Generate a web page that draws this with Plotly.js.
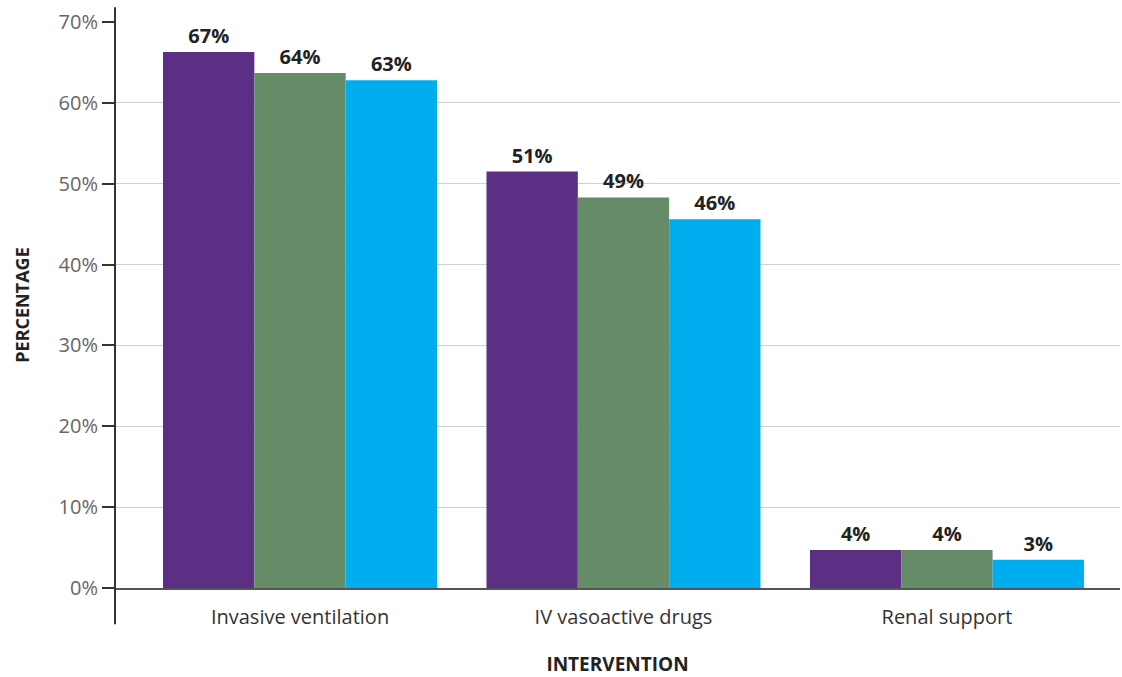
<!DOCTYPE html>
<html>
<head>
<meta charset="utf-8">
<script src="https://cdn.plot.ly/plotly-3.0.1.min.js"></script>
<style>html,body{margin:0;padding:0;background:#fff;}#chart{width:1122px;height:677px;}</style>
</head>
<body>
<div id="chart"></div>
<script>
var categories = ["Invasive ventilation", "IV vasoactive drugs", "Renal support"];
var seriesA = [66.3, 51.5, 4.7];
var seriesB = [63.7, 48.3, 4.7];
var seriesC = [62.8, 45.6, 3.5];
var labelsA = ["67%", "51%", "4%"];
var labelsB = ["64%", "49%", "4%"];
var labelsC = ["63%", "46%", "3%"];
var colors = ["#5B2F84", "#658B69", "#00ADEE"];
var yTickVals = [0, 10, 20, 30, 40, 50, 60, 70];
var yTickText = ["0%", "10%", "20%", "30%", "40%", "50%", "60%", "70%"];

var font = "Open Sans, Lato, sans-serif";
function mk(vals, labels, color, name) {
  return {
    type: "bar", x: categories, y: vals, name: name,
    text: labels, textposition: "outside", cliponaxis: false,
    textfont: {family: font, size: 20, color: "#222", weight: 700},
    marker: {color: color, line: {width: 0}},
    hoverinfo: "x+y"
  };
}
var data = [mk(seriesA, labelsA, colors[0], "A"), mk(seriesB, labelsB, colors[1], "B"), mk(seriesC, labelsC, colors[2], "C")];

var layout = {
  width: 1122, height: 677,
  margin: {l: 115, r: 2, t: 22, b: 89},
  paper_bgcolor: "#fff", plot_bgcolor: "#fff",
  showlegend: false,
  barmode: "group", bargap: 0.153, bargroupgap: 0,
  font: {family: font, color: "#333"},
  xaxis: {
    range: [-0.572, 2.535],
    showline: true, linecolor: "#555", linewidth: 2,
    showgrid: false, ticks: "",
    ticklabelstandoff: 10,
    tickfont: {family: font, size: 20, color: "#333"},
    title: {text: "INTERVENTION", font: {family: font, size: 19, color: "#222", weight: 700}, standoff: 37}
  },
  yaxis: {
    range: [0, 70],
    tickvals: yTickVals, ticktext: yTickText,
    showgrid: true, gridcolor: "#cfcfcf", gridwidth: 1,
    zeroline: false,
    showline: false,
    ticks: "outside", ticklen: 12, tickcolor: "#333", tickwidth: 2,
    tickfont: {family: font, size: 20, color: "#666"},
    title: {text: "PERCENTAGE", font: {family: font, size: 18, color: "#222", weight: 700}, standoff: 24}
  },
  shapes: [{
    type: "line", xref: "paper", yref: "paper",
    x0: 0, x1: 0, y0: -0.064, y1: 1.026,
    line: {color: "#333", width: 2}
  }]
};
Plotly.newPlot("chart", data, layout, {displayModeBar: false, staticPlot: true});
</script>
</body>
</html>
